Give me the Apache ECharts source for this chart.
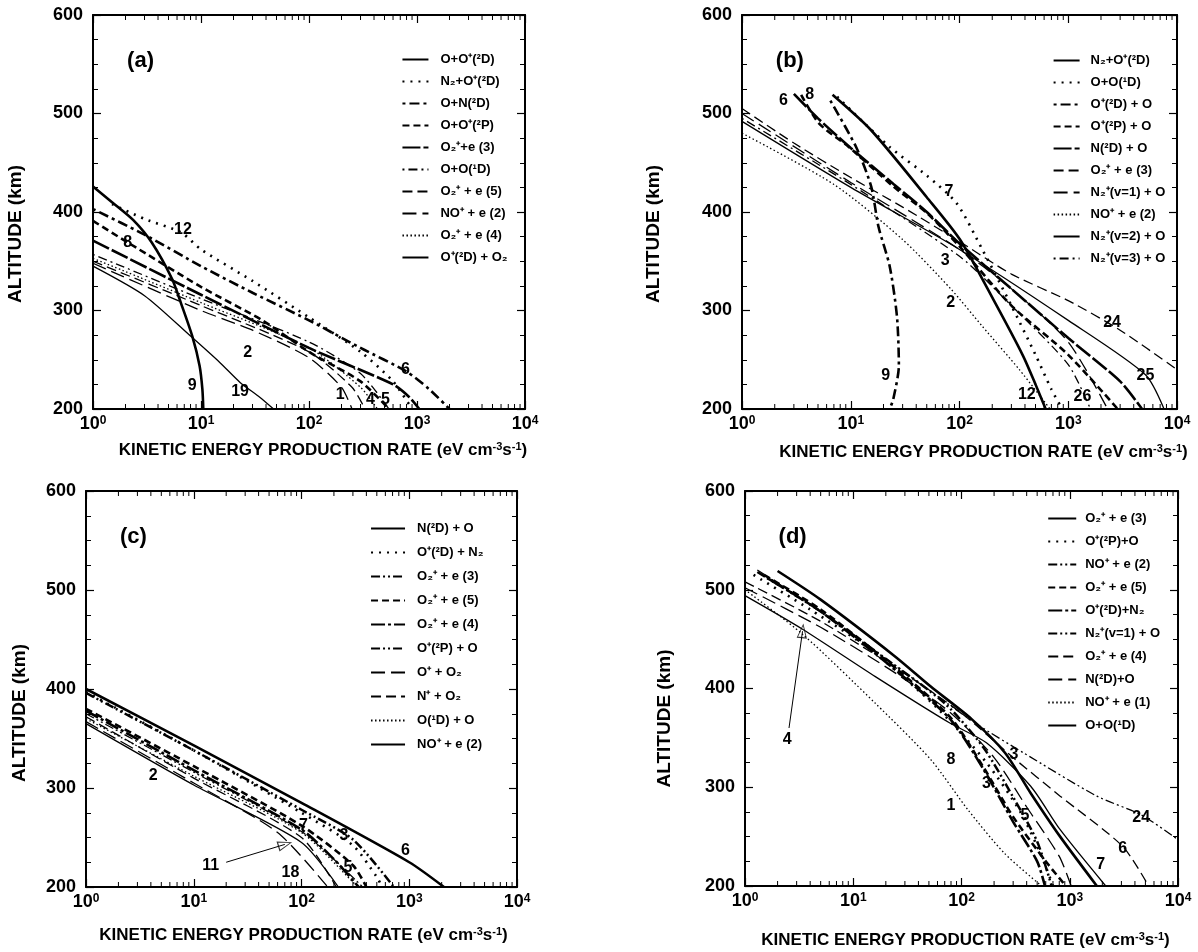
<!DOCTYPE html>
<html><head><meta charset="utf-8">
<script src="https://cdn.jsdelivr.net/npm/echarts@6/dist/echarts.min.js"></script>
<style>html,body{margin:0;padding:0;background:#fff}#c{width:1198px;height:952px}</style>
</head><body><div id="c"></div>
<script>
// ================= DATA =================
const yTicks = [200, 300, 400, 500, 600];
const xTickExponents = ['0', '1', '2', '3', '4'];
const xMinorTicks = [2,3,4,5,6,7,8,9,20,30,40,50,60,70,80,90,200,300,400,500,600,700,800,900,2000,3000,4000,5000,6000,7000,8000,9000];
const panelLetters = ['(a)', '(b)', '(c)', '(d)'];

// ---- panel (a) ----
const legendA = ['O+O⁺(²D)', 'N₂+O⁺(²D)', 'O+N(²D)', 'O+O⁺(²P)', 'O₂⁺+e (3)', 'O+O(¹D)', 'O₂⁺ + e (5)', 'NO⁺ + e (2)', 'O₂⁺ + e (4)', 'O⁺(²D) + O₂'];
const a1 = [[1,426],[1.5,410],[2.35,392],[3.5,369],[5.4,332],[6.5,308],[8.3,274],[9.7,244],[10.3,220],[10.5,200]];
const a2 = [[1.5,408],[3,393],[6.6,379],[10,362],[30,330],[100,293],[300,258],[600,228],[900,200]];
const a3 = [[1,403],[3,377],[10,345],[30,318],[100,290],[300,262],[800,238],[1300,220],[2000,200]];
const a4 = [[1,391],[2.1,369],[10,324],[37,290],[100,258],[300,228],[550,200]];
const a5 = [[1,371],[10,316],[100,262],[600,225],[850,212],[1050,200]];
const a6 = [[1,357],[10,312],[100,268],[300,236],[550,200]];
const a7 = [[1,350],[10,305],[100,258],[250,222],[330,200]];
const a8 = [[1,348],[10,300],[30,280],[100,252],[200,222],[250,200]];
const a9 = [[1,353],[10,308],[100,262],[300,222],[430,200]];
const a10 = [[1,345],[3,315],[8,274],[15,247],[23,227],[35,212],[47,200]];
const labelsA = [['12',6.8,382],['8',2.1,369],['2',27,257],['9',8.3,224],['19',23,218],['6',780,240],['1',195,215],['4',370,210],['5',510,210]];

// ---- panel (b) ----
const legendB = ['N₂+O⁺(²D)', 'O+O(¹D)', 'O⁺(²D) + O', 'O⁺(²P) + O', 'N(²D) + O', 'O₂⁺ + e (3)', 'N₂⁺(v=1) + O', 'NO⁺ + e (2)', 'N₂⁺(v=2) + O', 'N₂⁺(v=3) + O'];
const b1 = [[6.8,519],[15.4,483],[50,415],[101,372],[205,311],[384,254],[500,225],[620,200]];
const b2 = [[7.5,517],[22.8,466],[50,437],[94,409],[162,362],[300,305],[500,255],[700,220],[880,200]];
const b3 = [[6.5,513],[11.2,466],[15.4,426],[18,385],[22.8,345],[26.6,294],[27.7,244],[24.6,210],[22.8,200]];
const b4 = [[3.5,519],[5.1,490],[9.6,466],[24.6,426],[50,399],[100,365],[300,305],[1000,255],[2850,200]];
const b5 = [[3,520],[5,495],[10,465],[25,428],[50,400],[100,368],[300,322],[1000,272],[3000,228],[4770,200]];
const b6 = [[1,505],[3,470],[10,435],[30,405],[100,370],[300,337],[1000,310],[3000,280],[10000,240]];
const b7 = [[1,500],[10,430],[100,362],[300,322],[1000,268],[2300,200]];
const b8 = [[1,480],[7,428],[30,372],[83,322],[162,284],[355,240],[680,200]];
const b9 = [[1,492],[10,425],[100,362],[1000,290],[5100,235],[7600,200]];
const b10 = [[1,495],[10,428],[100,355],[300,305],[1000,245],[1600,200]];
const labelsB = [['6',2.4,513],['8',4.2,519],['7',80,421],['3',74,351],['2',83,308],['24',2530,288],['25',5130,234],['12',416,215],['26',1350,213],['9',21,234]];

// ---- panel (c) ----
const legendC = ['N(²D) + O', 'O⁺(²D) + N₂', 'O₂⁺ + e (3)', 'O₂⁺ + e (5)', 'O₂⁺ + e (4)', 'O⁺(²P) + O', 'O⁺ + O₂', 'N⁺ + O₂', 'O(¹D) + O', 'NO⁺ + e (2)'];
const c1 = [[1,400],[10,343],[100,285],[1000,225],[2100,200]];
const c2 = [[1,397],[10,338],[100,275],[300,242],[500,210],[560,200]];
const c3 = [[1,396],[10,338],[100,278],[300,248],[720,200]];
const c4 = [[1,380],[10,322],[100,262],[300,222],[400,200]];
const c5 = [[1,378],[10,318],[100,258],[200,228],[340,200]];
const c6 = [[1,375],[10,316],[100,256],[370,200]];
const c7 = [[1,367],[10,305],[60,255],[175,200]];
const c8 = [[1,372],[10,310],[100,250],[210,200]];
const c9 = [[1,370],[10,312],[100,255],[300,205],[330,200]];
const c10 = [[1,365],[10,303],[100,245],[220,200]];
const labelsC = [['2',4.2,313],['11',14.4,222],['18',79,215],['5',270,220],['3',248,252],['7',104,262],['6',920,237]];
const arrowC = [[20,225],[70,243]];

// ---- panel (d) ----
const legendD = ['O₂⁺ + e (3)', 'O⁺(²P)+O', 'NO⁺ + e (2)', 'O₂⁺ + e (5)', 'O⁺(²D)+N₂', 'N₂⁺(v=1) + O', 'O₂⁺ + e (4)', 'N(²D)+O', 'NO⁺ + e (1)', 'O+O(¹D)'];
const d1 = [[2,519],[5,490],[24,433],[52,402],[124,369],[252,335],[436,294],[815,250],[1780,200]];
const d2 = [[1.2,515],[4,480],[15,438],[60,380],[170,325],[350,275],[550,230],[700,200]];
const d3 = [[1.3,518],[5,478],[20,430],[70,385],[160,340],[300,290],[500,245],[680,200]];
const d4 = [[1.5,515],[5,480],[25,420],[80,370],[160,320],[300,270],[600,225],[920,200]];
const d5 = [[1.6,512],[5,478],[25,418],[80,368],[160,318],[300,265],[500,225],[590,200]];
const d6 = [[1.3,520],[4,485],[20,430],[134,365],[372,335],[1780,291],[4570,272],[10000,247]];
const d7 = [[1,508],[5,468],[30,415],[100,375],[300,330],[816,291],[3090,240],[5350,200]];
const d8 = [[1,502],[5,462],[25,415],[80,375],[200,330],[400,280],[800,230],[1030,200]];
const d9 = [[1,500],[3.4,455],[16,385],[52,328],[115,277],[250,233],[550,200]];
const d10 = [[1,494],[3.4,460],[16,412],[78,365],[170,345],[436,301],[816,257],[2150,200]];
const labelsD = [['4',2.46,348],['8',80,328],['1',80,281],['3',305,333],['3',170,304],['5',386,271],['24',4570,269],['6',3090,238],['7',1930,222]];
const arrowD = [[2.55,360],[3.4,458]];

// ================= STYLE / LAYOUT =================
const FONT = 'Liberation Sans, Arial, Helvetica, sans-serif';
const ST = {
  solidThick:{type:'solid',width:2.6}, solidThin:{type:'solid',width:1.3},
  dotThick:{type:[2,6],width:2.6}, dotThin:{type:[1.5,2.5],width:1.3},
  dashThick:{type:[7,4],width:2.6}, dashThin:{type:[10,5],width:1.3},
  longDashThick:{type:[18,3],width:2.6}, longDashThin:{type:[14,6],width:1.3},
  dashDotThick:{type:[3,4,10,4],width:2.6}, dashDotThin:{type:[2,4,9,4],width:1.3},
  dashDotDotThick:{type:[9,3,2,3,2,3],width:2.5}, dashDotDotThin:{type:[9,3,2,3,2,3],width:1.3},
  longDashDotThick:{type:[14,3,3,3],width:2.6}
};
const panels = [
  {grid:{left:93,top:15,width:432,height:394}, legend:legendA, lines:[a1,a2,a3,a4,a5,a6,a7,a8,a9,a10],
   styles:['solidThick','dotThick','dashDotThick','dashThick','longDashThick','dashDotThin','dashThin','longDashThin','dotThin','solidThin'],
   labels:labelsA, lg:{rx:0.714, dy:38, iw:26, pad:7, gap:9}, title:{dx:14, dy:41}, ytitle:{dx:-77, dy:22}},
  {grid:{left:742,top:15,width:435,height:394}, legend:legendB, lines:[b1,b2,b3,b4,b5,b6,b7,b8,b9,b10],
   styles:['solidThick','dotThick','dashDotThick','dashThick','longDashThick','dashThin','longDashThin','dotThin','solidThin','dashDotThin'],
   labels:labelsB, lg:{rx:0.714, dy:39, iw:26, pad:6, gap:9}, title:{dx:24, dy:43}, ytitle:{dx:-88, dy:22}},
  {grid:{left:86,top:491,width:431,height:396}, legend:legendC, lines:[c1,c2,c3,c4,c5,c6,c7,c8,c9,c10],
   styles:['solidThick','dotThick','dashDotDotThick','dashThick','longDashDotThick','dashDotDotThin','longDashThin','dashThin','dotThin','solidThin'],
   labels:labelsC, lg:{rx:0.659, dy:31, iw:34, pad:7, gap:11}, title:{dx:2, dy:48}, ytitle:{dx:-66, dy:24},
   arrow:arrowC, arrowRot:-73},
  {grid:{left:745,top:491,width:433,height:395}, legend:legendD, lines:[d1,d2,d3,d4,d5,d6,d7,d8,d9,d10],
   styles:['solidThick','dotThick','dashDotDotThick','dashThick','longDashDotThick','dashDotDotThin','dashThin','longDashThin','dotThin','solidThin'],
   labels:labelsD, lg:{rx:0.698, dy:21, iw:28, pad:4, gap:10}, title:{dx:4, dy:54}, ytitle:{dx:-80, dy:30},
   arrow:arrowD, arrowRot:-6}
];

const ZW = '\u200b';
const option = {animation:false, backgroundColor:'#fff', grid:[], xAxis:[], yAxis:[], series:[], legend:[], graphic:[]};
const axisLine = {show:true, onZero:false, lineStyle:{color:'#000', width:2}};

panels.forEach((p, i) => {
  const g = p.grid;
  option.grid.push(Object.assign({}, g));
  const xBase = {type:'log', logBase:10, min:1, max:10000, gridIndex:i, axisLine,
    axisTick:{show:true, inside:true, length:8, lineStyle:{color:'#000', width:1.2}}, splitLine:{show:false}};
  option.xAxis.push(Object.assign({}, xBase, {position:'bottom',
    axisLabel:{show:true, margin:6, color:'#000', fontFamily:FONT,
      formatter:(v)=>'{b|10}{s|'+xTickExponents[Math.round(Math.log10(v))]+'}',
      rich:{b:{fontSize:18, fontWeight:'bold', fontFamily:FONT, color:'#000'},
            s:{fontSize:12, fontWeight:'bold', fontFamily:FONT, color:'#000', verticalAlign:'top', lineHeight:12}}}}));
  option.xAxis.push(Object.assign({}, xBase, {position:'top', axisLabel:{show:false}}));
  const yBase = {type:'value', min:yTicks[0], max:yTicks[yTicks.length-1], interval:100, gridIndex:i, axisLine,
    axisTick:{show:true, inside:true, length:8, lineStyle:{color:'#000', width:1.2}},
    minorTick:{show:true, splitNumber:4, length:5, lineStyle:{color:'#000', width:1}}, splitLine:{show:false}};
  option.yAxis.push(Object.assign({}, yBase, {position:'left',
    axisLabel:{show:true, margin:10, color:'#000', fontSize:18, fontWeight:'bold', fontFamily:FONT}}));
  option.yAxis.push(Object.assign({}, yBase, {position:'right', axisLabel:{show:false}}));
  const xi = 2*i, yi = 2*i;
  const names = p.legend.map(n => n + ZW.repeat(i+1));
  p.lines.forEach((ln, k) => {
    const s = ST[p.styles[k]];
    option.series.push({type:'line', name:names[k], xAxisIndex:xi, yAxisIndex:yi, data:ln,
      symbol:'none', showSymbol:false, smooth:0.25, clip:true,
      lineStyle:{color:'#000', width:s.width, type:s.type, cap:'butt'}, itemStyle:{color:'#000'}});
  });
  // minor ticks of the log axis (2..9 per decade), bottom and top
  option.series.push({type:'custom', xAxisIndex:xi, yAxisIndex:yi, silent:true, clip:false,
    data:xMinorTicks.map(v=>[v, yTicks[0]]), encode:{x:0,y:1},
    renderItem:(params, api)=>{
      const v = api.value(0);
      const pb = api.coord([v, yTicks[0]]), pt = api.coord([v, yTicks[yTicks.length-1]]);
      return {type:'group', children:[
        {type:'line', shape:{x1:pb[0],y1:pb[1],x2:pb[0],y2:pb[1]-5}, style:{stroke:'#000', lineWidth:1}},
        {type:'line', shape:{x1:pt[0],y1:pt[1],x2:pt[0],y2:pt[1]+5}, style:{stroke:'#000', lineWidth:1}}]};
    }});
  // curve number labels
  option.series.push({type:'scatter', xAxisIndex:xi, yAxisIndex:yi, silent:true, symbolSize:0,
    itemStyle:{color:'#000'}, data:p.labels.map(l=>[l[1], l[2], l[0]]),
    label:{show:true, position:'inside', formatter:(d)=>d.value[2], color:'#000', opacity:1, textBorderWidth:0,
      fontSize:16, fontWeight:'bold', fontFamily:FONT}});
  if (p.arrow) {
    option.series.push({type:'line', xAxisIndex:xi, yAxisIndex:yi, data:p.arrow, symbol:'none', silent:true,
      lineStyle:{color:'#000', width:1}});
    option.series.push({type:'scatter', xAxisIndex:xi, yAxisIndex:yi, data:[p.arrow[1]], silent:true,
      symbol:'triangle', symbolSize:[9,13], symbolRotate:p.arrowRot,
      itemStyle:{color:'#fff', borderColor:'#000', borderWidth:1}});
  }
  option.legend.push({data:names, orient:'vertical', left:g.left + p.lg.rx*g.width, top:g.top + p.lg.dy,
    itemWidth:p.lg.iw, itemHeight:12, itemGap:p.lg.gap, selectedMode:false, padding:0,
    itemStyle:{color:'rgba(0,0,0,0)', borderWidth:0, opacity:0},
    formatter:(n)=>n.replace(/\u200b/g,''),
    textStyle:{color:'#000', fontSize:13, fontWeight:'bold', fontFamily:FONT, padding:[0,0,0,p.lg.pad]}});
  // texts
  option.graphic.push({type:'text', x:g.left + 0.11*g.width, y:g.top + 46,
    style:{text:panelLetters[i], fontSize:22, fontWeight:'bold', fontFamily:FONT, fill:'#000', align:'center', verticalAlign:'middle'}});
  option.graphic.push({type:'text', x:g.left + p.ytitle.dx, y:g.top + g.height/2 + p.ytitle.dy, rotation:Math.PI/2,
    style:{text:'ALTITUDE (km)', fontSize:19, fontWeight:'bold', fontFamily:FONT, fill:'#000', align:'center', verticalAlign:'middle'}});
  option.graphic.push({type:'text', x:g.left + g.width/2 + p.title.dx, y:g.top + g.height + p.title.dy,
    style:{text:'KINETIC ENERGY PRODUCTION RATE (eV cm{s|-3}s{s|-1})', fontSize:17, fontWeight:'bold', fontFamily:FONT, fill:'#000',
      align:'center', verticalAlign:'middle',
      rich:{s:{fontSize:11, fontWeight:'bold', fontFamily:FONT, fill:'#000', verticalAlign:'top', lineHeight:10}}}});
});

const chart = echarts.init(document.getElementById('c'), null, {renderer:'canvas'});
chart.setOption(option);
</script>
</body></html>
